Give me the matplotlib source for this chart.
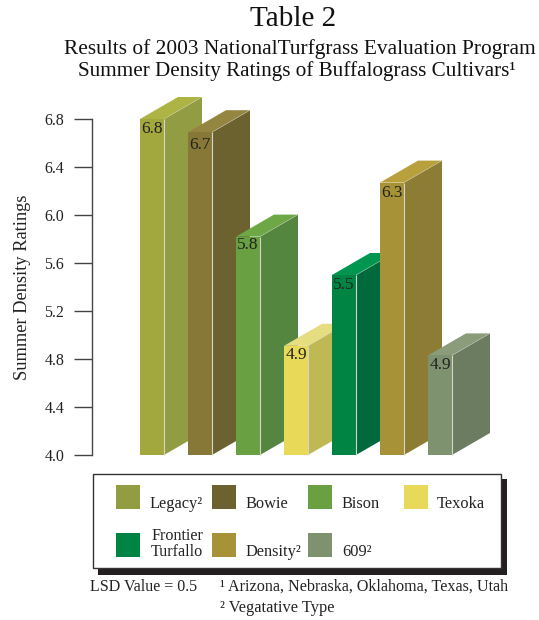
import numpy as np
import matplotlib
matplotlib.use("Agg")
import matplotlib.pyplot as plt
from matplotlib.patches import Polygon, Rectangle

plt.rcParams['font.family'] = ['Liberation Serif', 'DejaVu Serif']

W, H = 539, 620

cultivars = ["Legacy²", "Bowie", "Bison", "Texoka", "Frontier\nTurfallo", "Density²", "609²"]
heights = [6.8, 6.69, 5.82, 4.91, 5.5, 6.27, 4.83]
bar_labels = ["6.8", "6.7", "5.8", "4.9", "5.5", "6.3", "4.9"]
front_colors = ["#A3A83C", "#877838", "#68A042", "#E8DA58", "#008444", "#A89238", "#7F9270"]
side_colors = ["#929C42", "#6B6230", "#55863F", "#BEB952", "#006A3C", "#8C7C34", "#6B7C60"]
top_colors = ["#AEB443", "#948540", "#6EA846", "#E6DC80", "#009650", "#B8A03C", "#8A9C7A"]
legend_colors = ["#929C42", "#6B6230", "#68A042", "#E8DA58", "#008444", "#A89238", "#7F9270"]
y_ticks = [4.0, 4.4, 4.8, 5.2, 5.6, 6.0, 6.4, 6.8]

fig = plt.figure(figsize=(W / 100, H / 100), dpi=100)

# main axes, 48 px per bar slot and 120 px per rating unit
ax = fig.add_axes([92 / W, (H - 455) / H, 408 / W, 336 / H])
ax.set_xlim(-1, 7.5)
ax.set_ylim(4.0, 6.8)
ax.patch.set_alpha(0)
for s in ["top", "right", "bottom"]:
    ax.spines[s].set_visible(False)
ax.spines["left"].set_color("#444444")
ax.spines["left"].set_linewidth(1.0)
ax.set_xticks([])
ax.set_yticks(y_ticks)
ax.set_yticklabels(["%.1f" % t for t in y_ticks], fontsize=11.5, color="#222222")
ax.tick_params(axis="y", length=13, width=1.0, color="#444444", pad=7)

bar_w = 0.5
dx = 38 / 48
dy = 22 / 120
label_drop = [10, 13, 8, 9, 10, 10, 10]  # px below the bar top
for i, h in enumerate(heights):
    z = 3 + i
    l, r = i, i + bar_w
    ax.add_patch(Polygon([(r, 4.0), (r + dx, 4.0 + dy), (r + dx, h + dy), (r, h)],
                         fc=side_colors[i], ec="none", zorder=z, clip_on=False))
    ax.add_patch(Polygon([(l, h), (r, h), (r + dx, h + dy), (l + dx, h + dy)],
                         fc=top_colors[i], ec="none", zorder=z, clip_on=False))
    ax.add_patch(Rectangle((l, 4.0), bar_w, h - 4.0, fc=front_colors[i], ec="none",
                           zorder=z, clip_on=False))
    ax.plot([r, r], [4.0, h], color="#D5D5C8", lw=0.8, zorder=z, clip_on=False, solid_capstyle="butt")
    ax.plot([r, r + dx], [h, h + dy], color="#D5D5C8", lw=0.4, alpha=0.6, zorder=z, clip_on=False)
    ax.text(l + bar_w / 2, h - label_drop[i] / 120, bar_labels[i], ha="center", va="center",
            fontsize=12.5, color="#222222", zorder=z, clip_on=False)

ax.set_ylabel("Summer Density Ratings", fontsize=13.2, color="#222222")
ax.yaxis.set_label_coords((31 - 92) / 408, 0.5)

# overlay in pixel coordinates for titles, legend box and notes
ov = fig.add_axes([0, 0, 1, 1], zorder=20)
ov.set_xlim(0, W)
ov.set_ylim(H, 0)
ov.axis("off")
ov.patch.set_alpha(0)

ov.text(293, 19, "Table 2", ha="center", va="center", fontsize=21, color="#111111")
ov.text(300, 49, "Results of 2003 NationalTurfgrass Evaluation Program", ha="center", va="center",
        fontsize=15.4, color="#111111")
ov.text(297, 71, "Summer Density Ratings of Buffalograss Cultivars¹", ha="center", va="center",
        fontsize=15.2, color="#111111")

ov.add_patch(Rectangle((98, 479), 409, 96, fc="#231F20", ec="none"))
ov.add_patch(Rectangle((92.5, 474), 408, 94, fc="white", ec="#333333", lw=1.0))

swatch_x = [116, 212, 308, 404, 116, 212, 308]
swatch_y = [485, 485, 485, 485, 533, 533, 533]
text_x = [150, 246, 342, 437, 152, 246, 342]
text_y = [504, 504, 504, 504, 0, 552, 552]
for i, name in enumerate(cultivars):
    ov.add_patch(Rectangle((swatch_x[i], swatch_y[i]), 24, 24, fc=legend_colors[i], ec="none"))
    if "\n" in name:
        a, b = name.split("\n")
        ov.text(177, 536, a, ha="center", va="center", fontsize=11.6, color="#222222")
        ov.text(177, 552, b, ha="center", va="center", fontsize=11.6, color="#222222")
    else:
        ov.text(text_x[i], text_y[i], name, ha="left", va="center", fontsize=11.8, color="#222222")

ov.text(90, 587, "LSD Value = 0.5", ha="left", va="center", fontsize=11.5, color="#222222")
ov.text(220, 587, "¹ Arizona, Nebraska, Oklahoma, Texas, Utah", ha="left", va="center", fontsize=11.6, color="#222222")
ov.text(220, 608, "² Vegatative Type", ha="left", va="center", fontsize=11.8, color="#222222")

fig.savefig("out.png", dpi=100)
plt.close()
